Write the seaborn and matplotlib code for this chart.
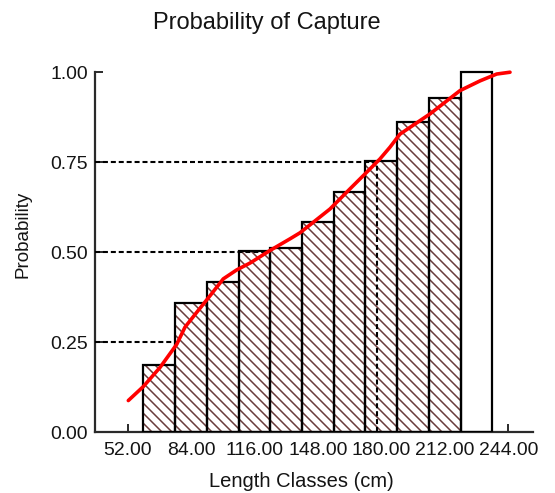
import matplotlib
matplotlib.use("Agg")
import matplotlib.pyplot as plt
import seaborn as sns
import pandas as pd

# ---- data ----
class_mid = [68, 84, 100, 116, 132, 148, 164, 180, 196, 212, 228]
prob_bars = [0.185, 0.356, 0.414, 0.501, 0.511, 0.581, 0.664, 0.752, 0.860, 0.926, 1.0]

curve_x = [52.4, 60.0, 68.4, 76.8, 81.0, 86.9, 93.6, 100.3, 107.1, 113.8, 123.9,
           133.9, 139.0, 154.1, 164.2, 172.6, 179.3, 184.4, 189.4, 204.5, 219.7,
           229.8, 238.2, 244.9]
curve_y = [0.086, 0.125, 0.178, 0.242, 0.290, 0.331, 0.377, 0.424, 0.449, 0.468, 0.503,
           0.535, 0.552, 0.618, 0.674, 0.720, 0.757, 0.790, 0.826, 0.882, 0.947,
           0.974, 0.993, 0.998]

x_ticks = [52, 84, 116, 148, 180, 212, 244]
y_ticks = [0.0, 0.25, 0.50, 0.75, 1.00]
ref_levels = [0.25, 0.50, 0.75]
ref_lengths = [77, 122, 178]

# ---- style ----
DPI = 120
S = 100 / DPI  # convert sizes tuned at 100 dpi

sns.set_theme(style="ticks")
plt.rcParams["font.family"] = ["Liberation Sans", "DejaVu Sans"]
plt.rcParams["hatch.linewidth"] = 1.1 * S

hatch_col = "#6a3c3c"
axis_col = "#2a2a2a"
text_col = "#141414"

fig = plt.figure(figsize=(555 / DPI, 494 / DPI), dpi=DPI)
ax = fig.add_axes([0.17117, 0.12449, 0.78919, 0.73603])

df = pd.DataFrame({"length": class_mid, "prob": prob_bars})

# hatched fill layer
sns.barplot(data=df, x="length", y="prob", native_scale=True, width=1.0,
            color="white", saturation=1, edgecolor=hatch_col, linewidth=0,
            errorbar=None, ax=ax, zorder=2)
n_hatched = len(class_mid) - 1
for i, p in enumerate(ax.patches):
    if i < n_hatched:
        p.set_hatch("\\\\\\\\")
    p.set_edgecolor(hatch_col)

# outline layer
sns.barplot(data=df, x="length", y="prob", native_scale=True, width=1.0,
            color="black", saturation=1, fill=False, linewidth=1.6 * S,
            errorbar=None, ax=ax, zorder=3)

xlim = (35.6, 256.5)

# reference dashed lines
dash = (0, (2.4, 1.4))
for lvl, ln in zip(ref_levels, ref_lengths):
    ax.hlines(lvl, xlim[0], ln, colors="black", linewidth=1.5 * S,
              linestyles=[dash], zorder=4)
ax.vlines(ref_lengths[-1], 0, ref_levels[-1], colors="black", linewidth=1.5 * S,
          linestyles=[dash], zorder=4)

# logistic curve
sns.lineplot(x=curve_x, y=curve_y, color="#ff0000", linewidth=2.6 * S, ax=ax, zorder=6)

# ---- axes ----
ax.set_xlim(*xlim)
ax.set_ylim(0, 1.01)
ax.set_xticks(x_ticks)
ax.set_xticklabels([f"{v:.2f}" for v in x_ticks])
ax.set_yticks(y_ticks)
ax.set_yticklabels([f"{v:.2f}" for v in y_ticks])
ax.tick_params(direction="in", length=6 * S, width=1.4 * S, color=axis_col,
               labelcolor=text_col, labelsize=14 * S)
ax.tick_params(axis="x", pad=7 * S)
ax.tick_params(axis="y", pad=5 * S)

for s in ["top", "right"]:
    ax.spines[s].set_visible(False)
for s in ["left", "bottom"]:
    ax.spines[s].set_color(axis_col)
    ax.spines[s].set_linewidth(1.6 * S)
ax.spines["left"].set_bounds(0, 1)

ax.set_xlabel("Length Classes (cm)", fontsize=14.5 * S, color=text_col)
ax.set_ylabel("Probability", fontsize=13.5 * S, color=text_col)
ax.xaxis.set_label_coords(0.4715, -0.108)
ax.yaxis.set_label_coords(-0.1445, 0.546)

fig.text(267 / 555, 1 - 23 / 494, "Probability of Capture", ha="center",
         va="center", fontsize=17 * S, color=text_col)

fig.savefig("out.png", dpi=DPI)
